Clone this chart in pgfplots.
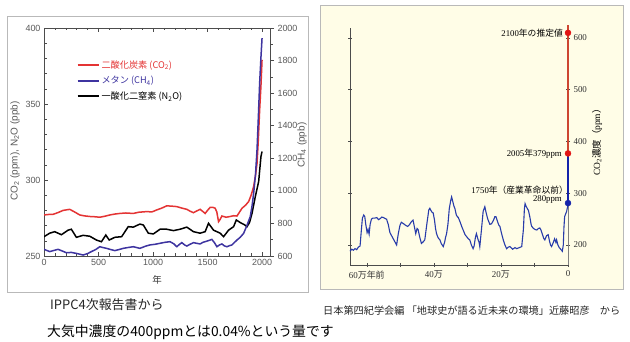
\documentclass[border=0pt]{standalone}
\usepackage{pgfplots}
\pgfplotsset{compat=1.18}
\usepackage{fontspec}
\setmainfont{Liberation Sans}
\newfontfamily\cjk{Noto Sans CJK JP}
\newfontfamily\serif{Liberation Serif}
\definecolor{co2red}{RGB}{228,52,52}
\definecolor{ch4blue}{RGB}{62,52,160}
\definecolor{bgy}{RGB}{255,253,231}
\definecolor{lineblue}{RGB}{40,60,170}
\definecolor{linered}{RGB}{205,70,50}
\definecolor{dotred}{RGB}{225,20,20}
\definecolor{dotblue}{RGB}{20,35,170}
\definecolor{tickgray}{RGB}{90,90,90}
\begin{document}
\begin{tikzpicture}
\path[use as bounding box, fill=white] (0,0) rectangle (630bp,342bp);
\draw[gray!55, line width=0.8bp] (7bp,326bp) rectangle (308bp,50bp);
\draw[gray!55, line width=0.8bp, fill=bgy] (320bp,337bp) rectangle (623bp,53bp);

% ---------------- left chart ----------------
\begin{axis}[at={(44bp,86bp)}, anchor=south west, scale only axis, width=226bp, height=228bp,
 xmin=0, xmax=2073, ymin=250, ymax=400,
 xtick={0,500,1000,1500,2000}, minor x tick num=4,
 ytick={250,300,350,400}, minor y tick num=4,
 xtick pos=both, ytick pos=left,
 tick align=inside, major tick length=4bp, minor tick length=2.5bp,
 axis line style={draw=black!70, line width=0.6bp}, tick style={black!70, line width=0.5bp},
 ticklabel style={font=\fontsize{9}{10}\selectfont, text=tickgray},
 /pgf/number format/assume math mode=true, /pgf/number format/set thousands separator={},
 every axis plot/.append style={line width=1.5bp}]
\addplot[co2red] coordinates {(0,277)(40,277.3)(83,277.4)(130,278.6)(175,280)(236,280.7)(280,279)(328,277)(370,276.4)(420,276)(470,275.8)(512,275.5)(560,276.2)(604,277)(650,277.6)(696,278)(750,278.3)(819,278)(870,278.8)(942,279.2)(990,279)(1034,280.3)(1080,281.5)(1126,283)(1170,282.8)(1218,282.5)(1260,281.6)(1310,280.7)(1340,279.5)(1371,278.5)(1400,279.6)(1432,280.7)(1455,279.4)(1478,278)(1500,280)(1524,282)(1550,282)(1570,281.4)(1585,279)(1601,272.6)(1615,274)(1632,276.3)(1670,275.5)(1708,276)(1740,276.5)(1770,276.3)(1790,278.5)(1816,281.4)(1850,283.5)(1877,285.8)(1900,290)(1923,295.7)(1940,303)(1954,311)(1965,325)(1978,346)(1990,362)(2000,379)};
\addplot[black] coordinates {(0,262.7)(52,265)(98,266)(160,264)(221,267)(251,267.6)(297,262.3)(359,263.6)(420,263)(481,260.5)(527,259.4)(567,263.8)(598,260.5)(650,262.3)(712,262.7)(773,269.3)(819,269)(880,271)(911,270.4)(957,265)(1003,264.5)(1064,267.6)(1126,267.6)(1187,266.7)(1248,267.6)(1310,269)(1371,266)(1432,265)(1478,266)(1509,271.5)(1555,267)(1616,265)(1647,262.7)(1693,267)(1739,269.3)(1764,273.7)(1800,272)(1840,270.5)(1862,269.3)(1885,272)(1908,278)(1938,289)(1969,299)(1990,315.4)(2000,318.7)};
\end{axis}
\begin{axis}[at={(44bp,86bp)}, anchor=south west, scale only axis, width=226bp, height=228bp,
 xmin=0, xmax=2073, ymin=600, ymax=2000, axis x line=none, axis y line*=right,
 ytick={600,800,...,2000}, minor y tick num=1,
 tick align=outside, major tick length=4bp, minor tick length=2.5bp,
 axis line style={draw=black!70, line width=0.6bp}, tick style={black!70, line width=0.5bp},
 ticklabel style={font=\fontsize{9}{10}\selectfont, text=tickgray},
 /pgf/number format/assume math mode=true, /pgf/number format/set thousands separator={},
 legend style={draw=none, fill=none, at={(0.13,0.875)}, anchor=north west, font=\cjk\fontsize{9.2}{10}\selectfont, row sep=2.5bp},
 legend cell align=left,
 legend image code/.code={\draw[#1, line width=2bp] (0bp,0bp) -- (21bp,0bp);}]
\addlegendimage{co2red}
\addlegendentry{\textcolor{co2red}{二酸化炭素 (CO\textsubscript{2})}}
\addplot[ch4blue, line width=1.5bp] coordinates {(0,641)(52,627)(90,634)(129,641)(170,630)(205,620)(250,622)(297,616)(359,606)(400,615)(435,627)(475,640)(512,657)(540,652)(574,647)(610,640)(650,633)(690,640)(727,647)(770,652)(819,657)(850,652)(880,647)(930,660)(972,668)(1020,672)(1064,678)(1110,684)(1156,688)(1190,675)(1218,657)(1240,670)(1264,682)(1290,668)(1310,661)(1340,672)(1371,682)(1400,678)(1432,674)(1455,683)(1478,688)(1510,695)(1540,702)(1565,680)(1586,657)(1610,668)(1632,674)(1655,662)(1678,657)(1700,663)(1724,668)(1745,682)(1770,698)(1800,715)(1831,739)(1860,785)(1892,842)(1910,915)(1923,985)(1940,1100)(1954,1252)(1966,1450)(1978,1661)(1990,1820)(2000,1938)};
\addlegendentry{\textcolor{ch4blue}{メタン (CH\textsubscript{4})}}
\addlegendimage{black}
\addlegendentry{一酸化二窒素 (N\textsubscript{2}O)}
\end{axis}
\node[rotate=90, font=\fontsize{10}{11}\selectfont, text=tickgray] at (15bp,191bp) {CO\textsubscript{2} (ppm), N\textsubscript{2}O (ppb)};
\node[rotate=90, font=\fontsize{10}{11}\selectfont, text=tickgray] at (302bp,197bp) {CH\textsubscript{4} (ppb)};
\node[font=\cjk\fontsize{9.5}{10}\selectfont, text=black!80] at (157bp,62bp) {年};

% ---------------- right chart ----------------
\begin{axis}[at={(350bp,77bp)}, anchor=south west, scale only axis, width=218bp, height=237bp,
 xmin=-650, xmax=0, ymin=161.4, ymax=619.3, clip=false,
 axis line style={draw=none},
 xtick={-600,-400,-200,0}, minor xtick={-500,-300,-100},
 xticklabels={{\serif 60}{\cjk 万年前},{\serif 40}{\cjk 万},{\serif 20}{\cjk 万},{\serif 0}},
 ytick={200,300,400,500,600},
 xtick pos=left, ytick pos=both, yticklabel pos=right,
 tick align=center, major tick length=4bp, minor tick length=4bp,
 tick style={black!70, line width=0.5bp},
 ticklabel style={font=\serif\fontsize{9}{10}\selectfont, text=black!80},
 /pgf/number format/assume math mode=true]
\draw[black!70, line width=0.6bp] (rel axis cs:0,0) -- (rel axis cs:0,1);
\draw[black!70, line width=0.6bp] (rel axis cs:0,0) -- (rel axis cs:1,0);
\draw[black!50, line width=0.6bp] (rel axis cs:1,0) -- (rel axis cs:1,1);
\addplot[lineblue, line width=1.1bp] coordinates {(-650,188)(-645,192)(-640,190)(-635,193)(-630,191)(-625,196)(-620,198)(-616,230)(-613,252)(-609,258)(-606,255)(-603,240)(-599,224)(-596,230)(-593,221)(-590,240)(-586,250)(-582,252)(-576,252)(-570,253)(-565,249)(-560,251)(-555,254)(-550,253)(-545,251)(-541,250)(-536,240)(-531,224)(-526,218)(-521,212)(-516,206)(-511,200)(-506,222)(-501,238)(-497,244)(-490,241)(-484,238)(-478,236)(-472,240)(-467,245)(-462,248)(-458,235)(-454,222)(-450,232)(-447,230)(-442,215)(-437,203)(-432,206)(-427,210)(-420,245)(-415,268)(-412,271)(-408,266)(-405,263)(-402,262)(-398,248)(-395,232)(-392,222)(-388,215)(-385,212)(-382,210)(-378,203)(-375,200)(-372,197)(-368,205)(-365,215)(-362,222)(-358,240)(-354,270)(-350,285)(-347,293)(-344,285)(-340,275)(-337,270)(-333,258)(-330,255)(-327,253)(-322,245)(-317,236)(-312,228)(-307,220)(-302,216)(-297,212)(-293,210)(-288,200)(-283,193)(-280,198)(-276,215)(-273,222)(-268,210)(-265,205)(-263,197)(-258,230)(-253,265)(-248,274)(-244,262)(-240,252)(-238,248)(-233,240)(-228,241)(-222,248)(-218,255)(-215,255)(-210,245)(-206,238)(-203,236)(-198,222)(-193,210)(-188,200)(-183,193)(-178,196)(-173,197)(-165,192)(-158,195)(-153,193)(-145,195)(-138,197)(-133,230)(-130,270)(-128,280)(-125,275)(-121,270)(-118,267)(-114,255)(-110,240)(-108,236)(-103,232)(-98,230)(-93,229)(-88,232)(-84,233)(-80,228)(-76,220)(-72,212)(-69,210)(-64,218)(-59,220)(-55,207)(-52,200)(-49,197)(-45,203)(-40,212)(-36,205)(-34,210)(-30,200)(-26,195)(-22,192)(-19,190)(-17,188)(-14,200)(-12,235)(-10,255)(-7,260)(-4,265)(-1,275)(0,280)};
\addplot[dotblue, line width=1.2bp] coordinates {(0,280)(0,379)};
\addplot[linered, line width=1.2bp] coordinates {(0,379)(0,626)};
\addplot[only marks, mark=*, mark size=3bp, dotred] coordinates {(0,610)(0,377)};
\addplot[only marks, mark=*, mark size=3bp, dotblue] coordinates {(0,281)};
\node[anchor=east, inner sep=0, font=\fontsize{8.8}{9}\selectfont] at ([xshift=-5bp]axis cs:0,610) {{\serif 2100}{\cjk 年の推定値}};
\node[anchor=east, inner sep=0, font=\fontsize{8.8}{9}\selectfont] at ([xshift=-6bp]axis cs:0,377) {{\serif 2005}{\cjk 年}{\serif 379ppm}};
\node[anchor=east, inner sep=0, font=\fontsize{8.8}{9}\selectfont] at ([xshift=0bp]axis cs:0,306) {{\serif 1750}{\cjk 年（産業革命以前）}};
\node[anchor=east, inner sep=0, font=\fontsize{8.8}{9}\selectfont] at ([xshift=-6bp]axis cs:0,287) {{\serif 280ppm}};
\end{axis}
\node[rotate=90, font=\fontsize{9.5}{10}\selectfont] at (597bp,202bp) {{\serif CO\textsubscript{2}}{\cjk 濃度（}{\serif ppm}{\cjk ）}};

% ---------------- captions ----------------
\node[anchor=west, inner sep=0, font=\cjk\fontsize{13}{14}\selectfont, text=black!85] at (50bp,37bp) {IPPC4次報告書から};
\node[anchor=west, inner sep=0, font=\cjk\fontsize{10.2}{11}\selectfont, text=black!85] at (323bp,31bp) {日本第四紀学会編 「地球史が語る近未来の環境」近藤昭彦　から};
\node[anchor=west, inner sep=0, font=\cjk\fontsize{13.9}{15}\selectfont, text=black] at (47bp,10bp) {大気中濃度の400ppmとは0.04\%という量です};
\end{tikzpicture}
\end{document}
